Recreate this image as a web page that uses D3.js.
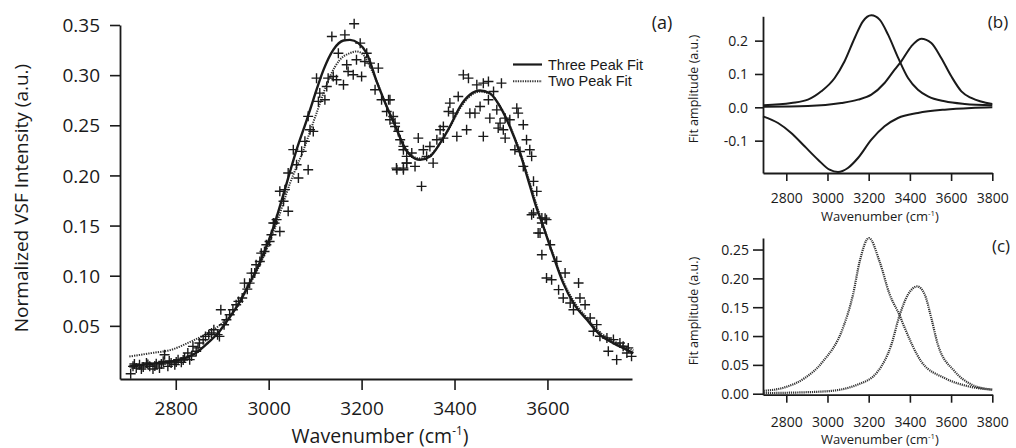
<!DOCTYPE html>
<html>
<head>
<meta charset="utf-8">
<script src="https://cdn.jsdelivr.net/npm/d3@7"></script>
<style>
  html, body { margin: 0; padding: 0; background: #fff; }
  svg { display: block; }
  text { font-family: "Open Sans", "Noto Sans", sans-serif; fill: #1a1a1a; }
</style>
</head>
<body>
<svg id="chart" width="1016" height="448"></svg>
<script>
// ---------- DATA ----------
// Panel (a): measured spectrum (wavenumber, normalized intensity)
const dataWavenumber = [
  2703,2708,2711,2715,2722,2726,2730,2737,2740,2744,2751,2755,2758,2765,2769,2773,2776,2783,2786,2790,
  2798,2801,2805,2812,2816,2819,2826,2830,2834,2837,2844,2848,2851,2859,2864,2871,2877,2882,2890,2894,
  2897,2904,2909,2916,2923,2930,2935,2943,2948,2954,2959,2963,2970,2973,2981,2984,2991,2995,3002,3006,
  3013,3024,
  3010,3017,3042,3032,3024,3035,3042,3064,3085,3060,3053,3071,3078,3089,3096,3085,3107,3121,3110,3103,
  3128,3139,3146,3161,3125,3136,3164,3184,3150,3168,3171,3182,3200,3189,3197,3211,3207,3218,3236,3229,
  3243,3258,3254,3261,3272,3279,3290,3297,3276,3290,3297,
  3261,3268,3272,3283,3290,3275,3290,3297,3308,3315,3329,3322,3333,3340,3354,3347,3362,3369,3376,3376,
  3390,3387,3397,3405,3408,3426,3433,3444,3419,3430,3448,3462,3473,3484,3501,3462,3455,3473,3491,3476,
  3498,3509,3494,3505,3509,3534,3537,3519,3548,3530,3555,3541,3562,3566,3548,3570,3577,3570,3588,3598,
  3580,
  3566,3595,3588,3584,3606,3588,3620,3598,3609,3638,3624,3667,3634,3649,3656,3670,3681,3692,3706,3699,
  3713,3728,3742,3756,3763,3774,3781,3749,3731,3771
];
const dataIntensity = [
  0.0023,0.0096,0.0120,0.0080,0.0113,0.0070,0.0090,0.0130,0.0115,0.0096,0.0070,0.0100,0.0123,0.0080,0.0120,0.0146,0.0212,0.0096,0.0150,0.0130,
  0.0113,0.0140,0.0163,0.0136,0.0160,0.0179,0.0229,0.0163,0.0200,0.0295,0.0246,0.0280,0.0329,0.0362,0.0395,0.0412,0.0428,0.0461,0.0412,0.0395,
  0.0661,0.0511,0.0561,0.0611,0.0661,0.0710,0.0744,0.0777,0.0926,0.0866,0.0926,0.1026,0.1026,0.1109,0.1142,0.1225,0.1242,0.1308,0.1341,0.1408,
  0.1524,0.1441,
  0.1526,0.1559,0.1643,0.1742,0.1842,0.1858,0.2024,0.1974,0.2057,0.2107,0.2257,0.2240,0.2340,0.2456,0.2439,0.2589,0.2738,0.2755,0.2821,0.2970,
  0.2970,0.2987,0.2954,0.2904,0.2887,0.3385,0.3402,0.3512,0.3219,0.3103,0.3037,0.3004,0.2987,0.3153,0.3319,0.3219,0.3136,0.3120,0.3070,0.2854,
  0.2755,0.2755,0.2638,0.2555,0.2522,0.2439,0.2290,0.2190,0.2057,0.2057,0.2124,
  0.2754,0.2588,0.2488,0.2356,0.2256,0.2073,0.2073,0.2123,0.2223,0.2090,0.1891,0.2372,0.2256,0.2190,0.2123,0.2289,0.2356,0.2455,0.2488,0.2372,
  0.2721,0.2638,0.2621,0.2389,0.2787,0.2455,0.2621,0.2621,0.3003,0.2970,0.2903,0.2920,0.2937,0.2837,0.2920,0.2389,0.2688,0.2754,0.2654,0.2571,
  0.2522,0.2571,0.2472,0.2455,0.2372,0.2671,0.2621,0.2555,0.2505,0.2256,0.2356,0.2239,0.2256,0.2190,0.2090,0.1941,0.1841,0.1625,0.1575,0.1559,
  0.1426,
  0.1608,0.1574,0.1525,0.1425,0.1309,0.1209,0.1143,0.0977,0.0960,0.1027,0.0861,0.0927,0.0778,0.0728,0.0661,0.0778,0.0711,0.0578,0.0512,0.0446,
  0.0396,0.0379,0.0363,0.0329,0.0296,0.0280,0.0196,0.0163,0.0246,0.0230
];

// Panel (a): fits, [wavenumber, intensity]
const threePeakFit = [
  [2700,0.0095],[2747,0.0122],[2790,0.0145],[2819,0.0179],[2848,0.0245],[2869,0.0329],[2891,0.0428],[2912,0.0560],
  [2934,0.0709],[2955,0.0892],[2977,0.1092],[2998,0.1325],[3010,0.1480],[3031,0.1800],[3060,0.2255],[3082,0.2554],
  [3096,0.2754],[3118,0.3053],[3139,0.3252],[3161,0.3345],[3175,0.3352],[3193,0.3319],[3211,0.3219],[3233,0.2930],
  [3254,0.2687],[3276,0.2455],[3290,0.2300],[3304,0.2205],[3326,0.2156],[3347,0.2189],[3369,0.2322],[3390,0.2488],
  [3412,0.2687],[3433,0.2804],[3455,0.2847],[3476,0.2820],[3498,0.2687],[3519,0.2488],[3541,0.2222],[3562,0.1900],
  [3575,0.1700],[3591,0.1491],[3613,0.1192],[3634,0.0926],[3656,0.0727],[3685,0.0560],[3713,0.0411],[3742,0.0328],
  [3771,0.0261],[3785,0.0228]
];
const twoPeakFit = [
  [2700,0.0194],[2747,0.0228],[2790,0.0261],[2833,0.0344],[2869,0.0428],[2891,0.0494],[2912,0.0580],[2934,0.0712],
  [2955,0.0880],[2977,0.1070],[2998,0.1290],[3017,0.1524],[3046,0.1923],[3075,0.2255],[3103,0.2621],[3132,0.2987],
  [3153,0.3152],[3175,0.3219],[3189,0.3236],[3204,0.3202],[3218,0.3086],[3240,0.2853],[3254,0.2687],[3276,0.2455],
  [3290,0.2300],[3304,0.2210],[3326,0.2170],[3347,0.2200],[3369,0.2320],[3390,0.2480],[3412,0.2670],[3433,0.2790],
  [3455,0.2835],[3476,0.2815],[3498,0.2690],[3519,0.2495],[3541,0.2235],[3562,0.1930],[3575,0.1730],[3591,0.1500],
  [3613,0.1205],[3634,0.0945],[3656,0.0750],[3685,0.0580],[3713,0.0435],[3742,0.0350],[3771,0.0285],[3785,0.0255]
];

// Panel (b): three-peak fit components
const bPeak1 = [
  [2690,0.006],[2824,0.013],[2905,0.023],[2970,0.048],[3035,0.088],[3083,0.138],[3132,0.208],[3172,0.258],
  [3213,0.276],[3253,0.263],[3294,0.218],[3342,0.150],[3391,0.088],[3439,0.053],[3488,0.033],[3569,0.018],
  [3666,0.010],[3800,0.006]
];
const bPeak2 = [
  [2690,0.002],[2905,0.004],[3067,0.013],[3148,0.023],[3213,0.038],[3277,0.073],[3326,0.113],[3358,0.138],
  [3407,0.183],[3455,0.206],[3504,0.193],[3552,0.148],[3601,0.093],[3650,0.048],[3698,0.028],[3800,0.010]
];
const bPeak3 = [
  [2687,-0.027],[2760,-0.047],[2824,-0.077],[2889,-0.117],[2954,-0.157],[3010,-0.187],[3051,-0.194],[3099,-0.182],
  [3148,-0.152],[3213,-0.097],[3277,-0.057],[3342,-0.032],[3439,-0.017],[3569,-0.007],[3698,-0.002],[3800,0.000]
];

// Panel (c): two-peak fit components
const cPeak1 = [
  [2690,0.005],[2792,0.011],[2889,0.027],[2978,0.056],[3075,0.114],[3124,0.172],[3156,0.229],[3201,0.270],
  [3253,0.229],[3302,0.172],[3350,0.136],[3375,0.114],[3455,0.056],[3569,0.027],[3682,0.013],[3800,0.007]
];
const cPeak2 = [
  [2690,0.001],[2986,0.004],[3148,0.016],[3245,0.039],[3310,0.085],[3350,0.136],[3391,0.172],[3436,0.186],
  [3472,0.172],[3504,0.131],[3536,0.085],[3617,0.039],[3698,0.016],[3800,0.007]
];

// Tick values
const mainXTicks = [2800, 3000, 3200, 3400, 3600];
const mainYTicks = [0.05, 0.10, 0.15, 0.20, 0.25, 0.30, 0.35];
const insetXTicks = [2800, 3000, 3200, 3400, 3600, 3800];
const bYTicks = [-0.1, 0.0, 0.1, 0.2];
const cYTicks = [0.00, 0.05, 0.10, 0.15, 0.20, 0.25];
const legendLabels = ["Three Peak Fit", "Two Peak Fit"];

// ---------- DRAW ----------
const svg = d3.select("#chart");
const INK = "#1a1a1a";

function styleAxis(g, size) {
  g.selectAll("path.domain").attr("stroke", INK).attr("stroke-width", 1.8);
  g.selectAll(".tick line").attr("stroke", INK).attr("stroke-width", 1.6);
  g.selectAll(".tick text").attr("fill", INK).style("font-size", size + "px")
    .style("font-family", '"Open Sans", sans-serif');
}

function xLabel(g, x, y, size) {
  const t = g.append("text").attr("x", x).attr("y", y).attr("text-anchor", "middle")
    .style("font-size", size + "px");
  t.append("tspan").text("Wavenumber (cm");
  t.append("tspan").attr("dy", -size * 0.42).style("font-size", (size * 0.6) + "px").text("-1");
  t.append("tspan").attr("dy", size * 0.42).text(")");
}

// ===== Panel (a) =====
const xA = d3.scaleLinear().domain([2680, 3782]).range([120, 632]);
const yA = d3.scaleLinear().domain([-0.003, 0.35]).range([379, 25]);
const gA = svg.append("g");

const axA_x = gA.append("g").attr("transform", `translate(0,${yA.range()[0]})`)
  .call(d3.axisBottom(xA).tickValues(mainXTicks).tickFormat(d3.format("d")).tickSize(11).tickSizeOuter(0));
axA_x.selectAll(".tick text").attr("y", 29).attr("dy", "0.35em");
styleAxis(axA_x, 19);

const axA_y = gA.append("g").attr("transform", `translate(${xA.range()[0]},0)`)
  .call(d3.axisLeft(yA).tickValues(mainYTicks).tickFormat(d3.format(".2f")).tickSize(10).tickSizeOuter(0));
axA_y.selectAll(".tick text").attr("x", -20).attr("dy", "0.35em");
styleAxis(axA_y, 19);

xLabel(gA, 380, 443, 19.5);
gA.append("text").attr("transform", "translate(28,198) rotate(-90)").attr("text-anchor", "middle")
  .style("font-size", "19px").text("Normalized VSF Intensity (a.u.)");
gA.append("text").attr("x", 662).attr("y", 23).attr("dy", "0.35em").attr("text-anchor", "middle")
  .style("font-size", "18px").text("(a)");

const lineA = d3.line().x(d => xA(d[0])).y(d => yA(d[1])).curve(d3.curveMonotoneX);

gA.append("path").datum(twoPeakFit).attr("d", lineA).attr("fill", "none")
  .attr("stroke", "#333").attr("stroke-width", 2).attr("stroke-dasharray", "1.3,1.1");
gA.append("path").datum(threePeakFit).attr("d", lineA).attr("fill", "none")
  .attr("stroke", INK).attr("stroke-width", 2.4);

gA.append("g").selectAll("path").data(dataWavenumber.map((w, i) => [w, dataIntensity[i]]))
  .join("path")
  .attr("transform", d => `translate(${xA(d[0])},${yA(d[1])})`)
  .attr("d", "M-5,0H5M0,-5V5")
  .attr("stroke", INK).attr("stroke-width", 1.4).attr("fill", "none");

// legend
const leg = gA.append("g");
const legendY0 = 64.5, legendStep = 16.8;
legendLabels.forEach((lab, i) => {
  const y = legendY0 + i * legendStep;
  leg.append("line").attr("x1", 513).attr("x2", 542).attr("y1", y).attr("y2", y)
    .attr("stroke", i === 0 ? INK : "#333").attr("stroke-width", i === 0 ? 2.2 : 2)
    .attr("stroke-dasharray", i === 0 ? null : "1.3,1.1");
  leg.append("text").attr("x", 548).attr("y", y).attr("dy", "0.35em")
    .style("font-family", '"Liberation Sans", Arial, sans-serif')
    .style("font-size", "14.5px").text(lab);
});

// ===== Panel (b) =====
const xB = d3.scaleLinear().domain([2687, 3800]).range([763, 992.3]);
const yB = d3.scaleLinear().domain([-0.197, 0.273]).range([173, 16.3]);
const gB = svg.append("g");

const axB_x = gB.append("g").attr("transform", `translate(0,${yB.range()[0]})`)
  .call(d3.axisBottom(xB).tickValues(insetXTicks).tickFormat(d3.format("d")).tickSize(8).tickSizeOuter(0));
axB_x.selectAll(".tick text").attr("y", 25).attr("dy", "0.35em");
styleAxis(axB_x, 14);

const axB_y = gB.append("g").attr("transform", `translate(${xB.range()[0]},0)`)
  .call(d3.axisLeft(yB).tickValues(bYTicks).tickFormat(d => d.toFixed(1)).tickSize(8).tickSizeOuter(0));
axB_y.selectAll(".tick text").attr("x", -15).attr("dy", "0.35em");
styleAxis(axB_y, 14);

xLabel(gB, 880, 221, 13);
gB.append("text").attr("transform", "translate(698,89) rotate(-90)").attr("text-anchor", "middle")
  .style("font-size", "12.5px").text("Fit amplitude (a.u.)");
gB.append("text").attr("x", 998).attr("y", 22).attr("dy", "0.35em").attr("text-anchor", "middle")
  .style("font-size", "17px").text("(b)");

const lineB = d3.line().x(d => xB(d[0])).y(d => yB(d[1])).curve(d3.curveMonotoneX);
[bPeak1, bPeak2, bPeak3].forEach(s => {
  gB.append("path").datum(s).attr("d", lineB).attr("fill", "none")
    .attr("stroke", INK).attr("stroke-width", 2);
});

// ===== Panel (c) =====
const xC = d3.scaleLinear().domain([2687, 3800]).range([763, 992.3]);
const yC = d3.scaleLinear().domain([-0.0017, 0.27]).range([394.7, 238]);
const gC = svg.append("g");

const axC_x = gC.append("g").attr("transform", `translate(0,${yC.range()[0]})`)
  .call(d3.axisBottom(xC).tickValues(insetXTicks).tickFormat(d3.format("d")).tickSize(8).tickSizeOuter(0));
axC_x.selectAll(".tick text").attr("y", 27).attr("dy", "0.35em");
styleAxis(axC_x, 14);

const axC_y = gC.append("g").attr("transform", `translate(${xC.range()[0]},0)`)
  .call(d3.axisLeft(yC).tickValues(cYTicks).tickFormat(d3.format(".2f")).tickSize(10).tickSizeOuter(0));
axC_y.selectAll(".tick text").attr("x", -14).attr("dy", "0.35em");
styleAxis(axC_y, 14);

xLabel(gC, 880, 444, 13);
gC.append("text").attr("transform", "translate(698,311) rotate(-90)").attr("text-anchor", "middle")
  .style("font-size", "12.5px").text("Fit amplitude (a.u.)");
gC.append("text").attr("x", 1001).attr("y", 246).attr("dy", "0.35em").attr("text-anchor", "middle")
  .style("font-size", "17px").text("(c)");

const lineC = d3.line().x(d => xC(d[0])).y(d => yC(d[1])).curve(d3.curveMonotoneX);
[cPeak1, cPeak2].forEach(s => {
  gC.append("path").datum(s).attr("d", lineC).attr("fill", "none")
    .attr("stroke", "#333").attr("stroke-width", 2.2).attr("stroke-dasharray", "1.2,0.9");
});
</script>
</body>
</html>
